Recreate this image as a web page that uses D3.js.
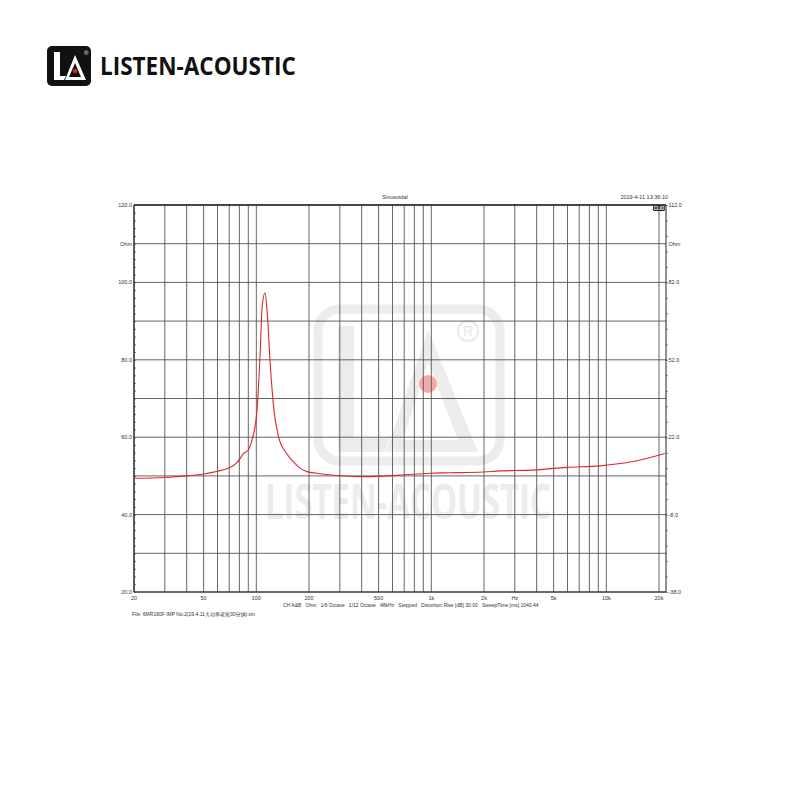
<!DOCTYPE html>
<html><head><meta charset="utf-8">
<script src="https://cdn.jsdelivr.net/npm/d3@7"></script>
<style>html,body{margin:0;padding:0;background:#fff}svg{display:block}</style>
</head><body>
<script>
// ---- data ----
const freqs = [20,30,40,50,60,70,77,80,84,90,94.5,100.6,105,108,112,115.5,120,125.5,134,149,170,178,195,221,300,428,662,982,1278,1982,2468,3810,5940,9200,14200,21600];
const impedance = [49.4,49.6,50.0,50.5,51.2,52.1,53.3,54.2,55.7,56.7,59.3,66.2,81,93.7,97.3,92.0,79.1,67.9,60.1,55.8,52.8,52.0,51.1,50.7,50.05,49.8,50.2,50.7,50.8,51.0,51.3,51.5,52.2,52.6,53.7,55.8];
const gridFreqs = [20,30,40,50,60,70,80,90,100,200,300,400,500,600,700,800,900,1000,2000,3000,4000,5000,6000,7000,8000,9000,10000,20000];
const xTickValues = [20,50,100,200,500,1000,2000,3000,5000,10000,20000];
const xTickLabels = ["20","50","100","200","500","1k","2k","Hz","5k","10k","20k"];
const leftTickValues = [20,40,60,80,100,110,120];
const leftTickLabels = ["20.0","40.0","60.0","80.0","100.0","Ohm","120.0"];
const rightTickValues = [-38,-8,22,52,82,97,112];
const rightTickLabels = ["-38.0","-8.0","22.0","52.0","82.0","Ohm","112.0"];
const titleText = "Sinusoidal";
const dateText = "2019-4-11 13:36:10";
const footer1 = "CH A&B   Ohm   1/6 Octave   1/12 Octave   48kHz   Stepped   Distortion Rise [dB] 30.00   SweepTime [ms] 1040.44";
const footer2 = "File: 6MR160F IMP  No.2(19.4.11大功率老化30分钟).sin";

const W = 800, H = 800;
const svg = d3.select("body").append("svg").attr("width", W).attr("height", H);
svg.append("rect").attr("width", W).attr("height", H).attr("fill", "#fff");

const L = 134, R = 666, T = 205, B = 592;
const x = d3.scaleLog().domain([20, 20000]).range([L, 659]);
const yL = d3.scaleLinear().domain([20, 120]).range([B, T]);
const yR = d3.scaleLinear().domain([-38, 112]).range([B, T]);
const font = "'Liberation Sans', Arial, sans-serif";

// fit a text to a given width by horizontal scaling
function fitText(sel, x0, y0, width) {
  const w = sel.node().getComputedTextLength();
  sel.attr("x", 0).attr("y", 0).attr("transform", `translate(${x0},${y0}) scale(${width / w},1)`);
}

// ---- watermark ----
const wm = svg.append("g").attr("fill", "none").attr("stroke", "#ececec");
wm.append("rect").attr("x", 318).attr("y", 309).attr("width", 182).attr("height", 152).attr("rx", 22).attr("stroke-width", 9);
wm.append("path").attr("d", "M338,326 L354,326 L354,438 L390,438 L385,452 L338,452 Z").attr("fill", "#ececec").attr("stroke", "none");
wm.append("path").attr("d", "M386,452 L428,330 L478,452 Z M403,440 L428,362 L458,440 Z").attr("fill", "#ececec").attr("stroke", "none").attr("fill-rule", "evenodd");
wm.append("circle").attr("cx", 468).attr("cy", 331).attr("r", 10).attr("stroke-width", 2.5);
wm.append("text").attr("x", 468).attr("y", 336).attr("text-anchor", "middle").attr("font-family", font).attr("font-size", 14).attr("font-weight", "bold").attr("fill", "#ececec").attr("stroke", "none").text("R");
svg.append("circle").attr("cx", 428).attr("cy", 384).attr("r", 9).attr("fill", "#f4a9a9");
const wmText = svg.append("text").attr("font-family", "'Open Sans', 'DejaVu Sans', sans-serif").attr("font-weight", "bold")
  .attr("font-size", 48).attr("fill", "#ececec").text("LISTEN-ACOUSTIC");
fitText(wmText, 265, 519, 286);

// ---- top logo ----
const lg = svg.append("g");
lg.append("rect").attr("x", 47).attr("y", 46).attr("width", 44).attr("height", 40).attr("rx", 5).attr("fill", "#111");
lg.append("path").attr("d", "M54,52 L60,52 L60,76 L66,76 L64,80 L54,80 Z").attr("fill", "#fff");
lg.append("path").attr("d", "M65,80 L75,55 L86,80 Z M69,77 L75,63 L81,77 Z").attr("fill", "#fff").attr("fill-rule", "evenodd");
lg.append("circle").attr("cx", 75).attr("cy", 71).attr("r", 2.3).attr("fill", "#e02020");
lg.append("text").attr("x", 84).attr("y", 55).attr("font-family", font).attr("font-size", 6).attr("fill", "#fff").text("®");
const lgText = lg.append("text").attr("font-family", "'Open Sans', 'Noto Sans', sans-serif").attr("font-weight", "bold")
  .attr("font-size", 25).attr("fill", "#111").text("LISTEN-ACOUSTIC");
fitText(lgText, 100, 75, 196);

// ---- grid ----
const g = svg.append("g");
g.selectAll("line.v").data(gridFreqs).join("line")
  .attr("x1", d => x(d)).attr("x2", d => x(d)).attr("y1", T).attr("y2", B)
  .attr("stroke", "#555").attr("stroke-width", 0.9);
g.selectAll("line.h").data(d3.range(20, 121, 10)).join("line")
  .attr("x1", L).attr("x2", R).attr("y1", d => yL(d)).attr("y2", d => yL(d))
  .attr("stroke", "#555").attr("stroke-width", 0.9);

// frame
g.append("line").attr("x1", L).attr("x2", R).attr("y1", T).attr("y2", T).attr("stroke", "#222").attr("stroke-width", 1.6);
g.append("line").attr("x1", L).attr("x2", R).attr("y1", B).attr("y2", B).attr("stroke", "#222").attr("stroke-width", 1.2);
g.append("line").attr("x1", L).attr("x2", L).attr("y1", T).attr("y2", B).attr("stroke", "#222").attr("stroke-width", 1.2);
g.append("line").attr("x1", R).attr("x2", R).attr("y1", T).attr("y2", B).attr("stroke", "#222").attr("stroke-width", 1);

// axes (minor ticks only)
const leftAxis = d3.axisRight(yL).tickValues(d3.range(20, 121, 2)).tickSize(2).tickFormat("");
svg.append("g").attr("transform", `translate(${L},0)`).call(leftAxis)
  .call(s => { s.select(".domain").remove(); s.selectAll("text").remove(); })
  .selectAll("line").attr("stroke", "#333").attr("stroke-width", 0.6);
const rightAxis = d3.axisRight(yR).tickValues(d3.range(-38, 113, 6)).tickSize(2).tickFormat("");
svg.append("g").attr("transform", `translate(${R},0)`).call(rightAxis)
  .call(s => { s.select(".domain").remove(); s.selectAll("text").remove(); })
  .selectAll("line").attr("stroke", "#333").attr("stroke-width", 0.6);

svg.append("g").selectAll("text").data(leftTickValues).join("text")
  .attr("x", L - 2).attr("y", d => yL(d) + 2).attr("text-anchor", "end")
  .attr("font-family", font).attr("font-size", 5.5).attr("fill", "#333")
  .text((d, i) => leftTickLabels[i]);
svg.append("g").selectAll("text").data(rightTickValues).join("text")
  .attr("x", R + 2.5).attr("y", d => yR(d) + 2).attr("text-anchor", "start")
  .attr("font-family", font).attr("font-size", 5.5).attr("fill", "#333")
  .text((d, i) => rightTickLabels[i]);
svg.append("g").selectAll("text").data(xTickValues).join("text")
  .attr("x", d => x(d)).attr("y", B + 8).attr("text-anchor", "middle")
  .attr("font-family", font).attr("font-size", 5.5).attr("fill", "#333")
  .text((d, i) => xTickLabels[i]);

// titles
svg.append("text").attr("x", 395).attr("y", 199).attr("text-anchor", "middle").attr("font-family", font).attr("font-size", 5.5).attr("fill", "#333").text(titleText);
svg.append("text").attr("x", 668).attr("y", 199).attr("text-anchor", "end").attr("font-family", font).attr("font-size", 5.5).attr("fill", "#333").text(dateText);
svg.append("rect").attr("x", 653).attr("y", 205.5).attr("width", 12).attr("height", 5.5).attr("rx", 1.5).attr("fill", "#222");
svg.append("text").attr("x", 659).attr("y", 210).attr("text-anchor", "middle").attr("font-family", font).attr("font-size", 4.5).attr("font-weight", "bold").attr("fill", "#fff").text("CLIO");
svg.append("text").attr("x", 283).attr("y", 607).attr("font-family", font).attr("font-size", 5).attr("fill", "#333").attr("xml:space", "preserve").style("white-space", "pre").text(footer1);
svg.append("text").attr("x", 132).attr("y", 616).attr("font-family", "'Liberation Sans', 'Noto Sans CJK SC', sans-serif").attr("font-size", 5).attr("fill", "#333").text(footer2);

// ---- curve ----
const data = freqs.map((f, i) => ({ f, v: impedance[i] }));
const line = d3.line().x(d => x(d.f)).y(d => yL(d.v)).curve(d3.curveMonotoneX);
svg.append("path").datum(data).attr("d", line).attr("fill", "none").attr("stroke", "#e0262e").attr("stroke-width", 1.1);
</script>
</body></html>
